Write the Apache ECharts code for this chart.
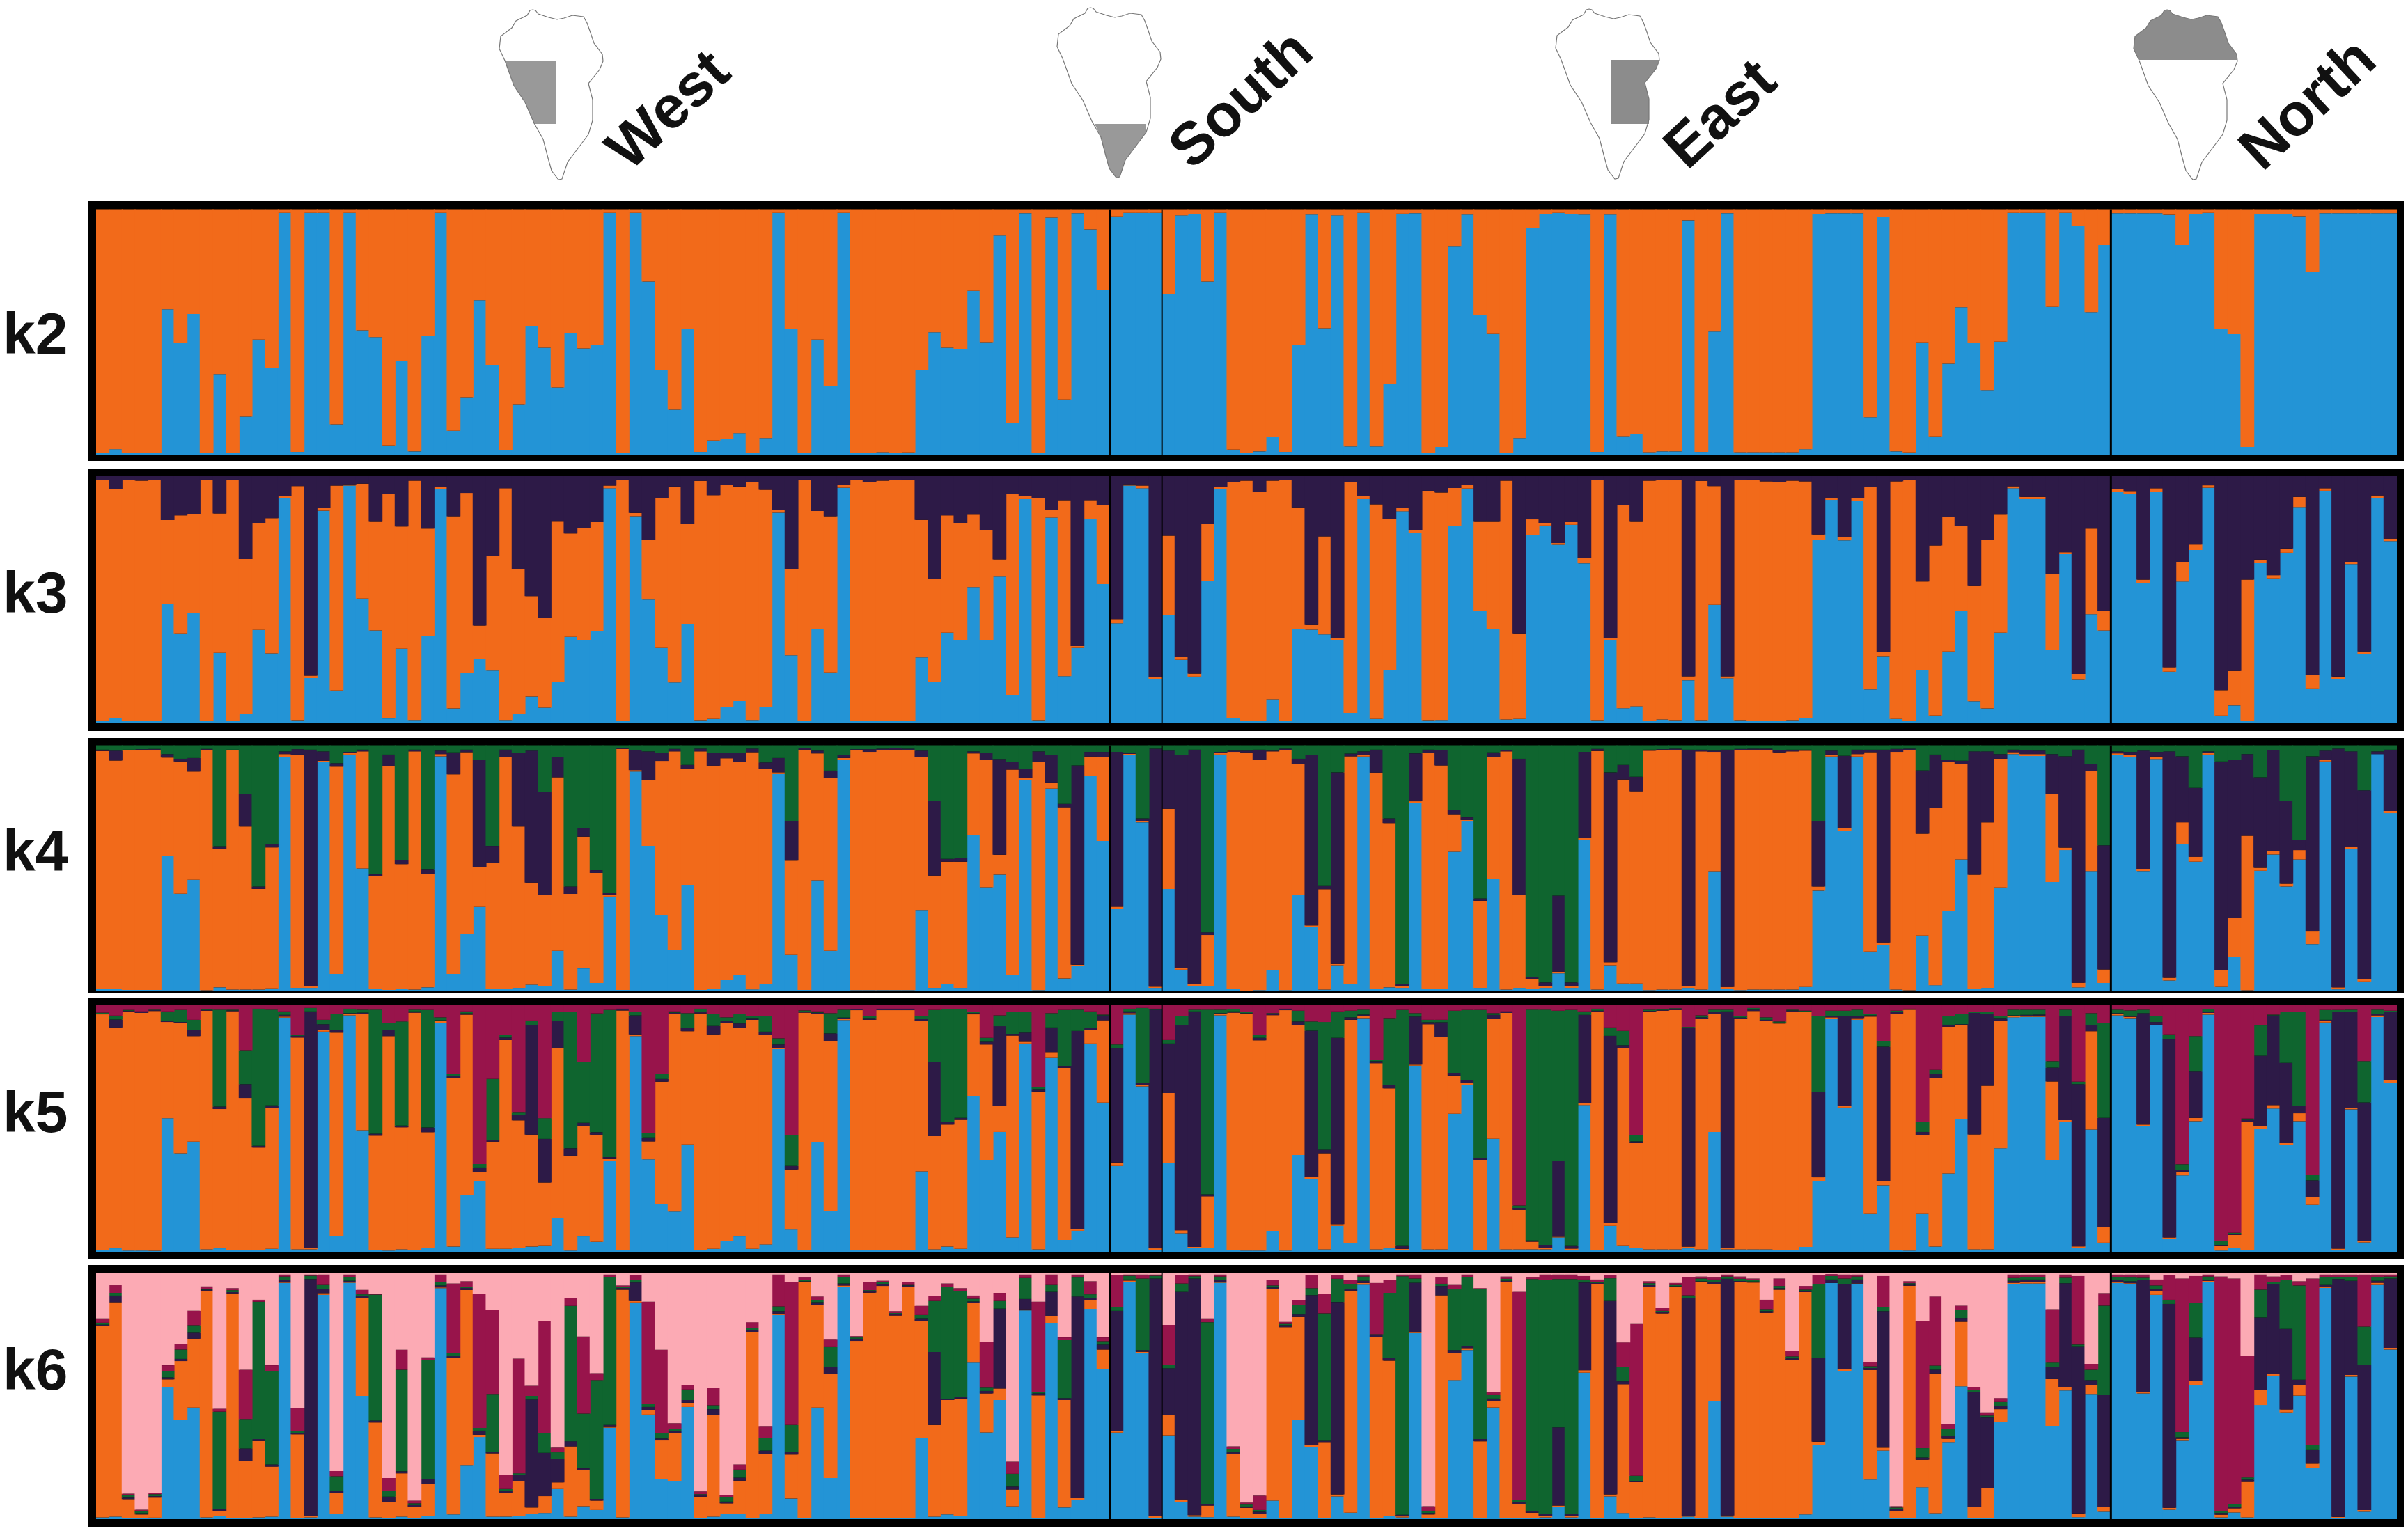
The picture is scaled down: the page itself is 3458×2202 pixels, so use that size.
<!DOCTYPE html>
<html><head><meta charset="utf-8">
<style>html,body{margin:0;padding:0;background:#fff}#c{width:3458px;height:2202px}</style>
<script src="https://cdn.jsdelivr.net/npm/echarts@6/dist/echarts.min.js"></script>
</head><body><div id="c"></div>
<script>
const regions = ['West','South','East','North'];
const regionSizes = [78,4,73,22];
const panelNames = ['k2','k3','k4','k5','k6'];

const k2Blue = [
1.1,2.5,1.1,1.1,1.1,59.3,45.6,57.4,1.1,33,
1.1,15.7,47,35.6,98.5,1.4,98.5,98.5,12.6,98.5,
50.8,48,4,38.5,1.6,48.4,98.5,10,23.6,63,
36.5,2.2,20.5,52.6,43.7,27.6,49.7,43.4,44.9,98.5,
1.1,98.5,70.6,34.8,18.5,51.4,1.4,6,6.5,9,
1.1,7,98.5,51.4,1.1,47,28.3,98.5,1.1,1.1,
1.3,1.1,1.2,34.8,50,43.7,43,66.8,46,89.3,
13.2,98.4,1.1,96.6,22.7,98.4,91.8,67.3,97.1,98.5,
98.5,98.5,65.5,97.5,98,70.6,98.5,2.3,1.1,1.6,
7.5,1.4,44.8,97.8,51.6,97.5,3.6,98.5,3.6,29.1,
98.2,98.4,1.1,3.4,84.8,97.8,57.1,49.3,1.1,7,
92.4,98,98.5,98,97.8,1.4,97.8,7.8,8.8,1.3,
1.6,1.6,95.5,1.4,50.3,98.4,1.3,1.3,1.3,1.3,
1.3,2.5,98,98.4,98.4,98.4,15.5,96.8,1.6,1.2,
45.9,7.7,37.2,60.2,45.6,26.5,46.2,98.5,98.5,98.5,
60.3,98.5,93.1,58.2,85.4,98.4,98.4,98.4,98.4,97.7,
85.4,98,98.5,51.2,49.2,3.4,98,98,98,97.2,
74.5,98.4,98.4,98.4,98.4,98.4,98.4];

const k3Dark = [
1.6,5.2,1.6,1.8,1.5,17.8,15.9,15.5,1.4,15.1,
1.4,33.6,18.9,17,7.9,4,80.8,12.9,3.8,3.3,
3,18.5,7.3,20.4,1.8,21.2,4.5,16.2,6.8,60.5,
32.3,4.9,37.5,48.6,57.3,18.4,23.2,21.1,18.6,3.8,
1.4,14.9,25.9,9,4.2,19.2,1.9,7.7,3.6,4.2,
2.3,5.5,13.8,37.5,1.4,14.1,16.2,3.6,1.4,2.5,
1.8,1.6,1.4,17.7,41.6,15.9,18.9,15.6,21.8,33.7,
7.3,7.9,8.8,13.8,9.7,68.8,9.7,11.6,57.9,3.3,
3.8,81.5,24.1,73.2,80,19.3,4.5,2.5,1.8,6.3,
1.8,1.5,12.6,60.3,24.4,65.5,2.5,7.9,11.4,17.3,
12.9,21.9,5.9,6.6,4.8,3.6,18.5,18.5,1.8,63.7,
17.5,18.9,27.1,18.6,33.2,1.6,65.5,11.6,18.5,1.8,
1.5,1.4,81.1,1.9,4,81.1,1.6,1.4,2.1,2.5,
1.8,2.1,23.6,8.8,24.7,9,4.5,71.1,2.1,1.4,
42.7,28.1,16.6,20.3,44.5,25.8,15.6,4.1,8.4,8.4,
39.7,30.8,80.1,21.2,54.5,5.2,6,41.9,4.9,77.4,
34.7,27.7,3.7,86.7,78.9,41.9,33.8,40.1,29.3,8.4,
80.5,4.9,81.2,34.7,71,7.8,25.3];
const k3Blue = [
.8,1.9,.8,.7,.7,48.2,36.3,44.7,.8,28.4,
.8,3.7,37.7,28.2,91,1.1,18.2,86,13.2,96.2,
50.4,37.5,1.8,30.1,1.2,35.1,94.7,5.9,20.3,25.9,
21.2,1.2,3.8,10.7,6.2,16.7,34.9,33.7,37.1,95.1,
.7,83.8,50,30.4,16.4,40,1.1,1.6,6.4,8.9,
1.2,6.4,85.2,27.4,.8,38.1,20.5,95.3,.7,.9,
.7,.7,.7,26.6,16.8,36.6,33.6,55.1,33.6,59.3,
11.4,90.7,1.1,83.2,19,30.4,82.5,56.3,40.4,96.2,
95.1,17.7,43.8,25.6,18.8,57.7,94.7,2.1,1,1,
9.6,1,38.1,37.8,35.9,33.6,4.1,90.7,1.6,21.6,
85.8,77,1.1,1.2,79.7,95,45.5,38.1,1.4,1.6,
76.3,80,72.2,80.3,64.7,1.1,33.7,6,6.8,1,
1.4,1.1,17.3,1.1,47.9,18.1,1.1,1,1,1,
1.1,2.1,74.2,90.4,74,90,13.6,27.1,1.6,1,
21.6,3,29,45.5,8.8,5.9,36.6,95.1,90.7,90.7,
29.7,68.4,17.5,44.1,37.5,93.7,92.9,56.8,93.8,20.8,
57.3,70.1,95.3,3,7.1,.8,64.9,58.6,69,87.5,
14,94.1,17.8,64.4,27.9,91.1,73.7];

const k4Green = [
1.8,2.2,1.8,1.6,1.5,3.6,5.5,5.2,1.5,41,
1.8,19.8,57.4,40,2.5,1.6,1.8,2.5,7.3,2.7,
1.8,52.5,3.8,46.7,1.8,50.3,2.2,2.9,1.8,5.9,
40.9,1.8,3.2,2.2,19,4.8,57.4,33.5,50.8,59.9,
1.1,2.1,2.5,3.2,1.5,8,1.4,3.2,3.2,3.2,
1.4,7,5.2,31,1.1,2.2,10.3,4.1,1.6,1.6,
1.4,1.1,1.4,2.2,22.8,46.2,45.9,2.5,3.2,5.6,
6.9,9.6,2.5,4.1,23.8,8.2,2.7,2.7,2.7,3,
29.7,1.4,2.2,4.1,1.8,76,2.7,2.2,2.2,1.8,
2.2,1.4,5.5,4.1,56.9,11,3.4,2.5,1.8,29.7,
97,3.3,1.8,1.9,26.2,29.3,62.2,2.9,2.1,5.5,
94.1,96.4,61.1,96.4,2.7,1.5,11,8,12.8,1.8,
1.6,1.4,1.8,1.8,2.2,1.8,1.5,1.4,1.4,1.9,
1.8,1.8,31,2.2,4.3,1.8,1.8,1.8,1.5,1.4,
10.2,3.8,5.9,6.3,2.5,2.5,3.6,1.8,2.1,2.2,
3.6,4.5,1.8,7.7,40.7,2.5,2.7,2.2,2.7,2.5,
4.5,17.3,2.5,6.6,6,3.6,13,2.1,22.8,38.5,
4.5,2.2,1.4,2.5,18.3,2.7,1.8];
const k4Dark = [
.5,4,.3,.3,.3,1.4,1.1,5.5,.3,1.1,
.3,13.2,1,1.5,1.1,2.2,96.2,3.8,1.4,.4,
.7,.8,4.7,1.6,.7,1.9,1.4,8.9,1,43.5,
6.9,2.9,29.8,53.6,41.8,8.2,3,3.6,1.1,1,
.4,8,11.7,3.2,1,1.6,1.1,5.1,2.1,3.7,
1.4,2.6,5.8,15.9,.7,1.1,2.9,1.1,.3,1.1,
.5,.7,.7,2.5,30.2,1.1,1.4,.8,2.7,38.9,
3,3.6,4.4,11,1.4,81,1.9,2.2,62.9,.5,
1.1,96.7,23.6,86.4,95.3,1.1,.5,.5,.7,4.1,
.3,.7,2.1,69.1,1.6,77.6,1.1,1.4,9.3,1.9,
1,19.5,1.4,6.3,1.8,1.1,1,1.8,.4,55.4,
.8,1.4,30.9,1.4,34.8,.8,77.2,5.9,5.9,.4,
.4,.5,96.1,.7,.5,96.4,.5,.4,.4,1,
.7,.4,26.4,1.6,29.5,1.8,1,78.3,1.2,.5,
25.7,21.6,1,1.4,50.1,28.8,1.9,1,1.5,1.4,
16.1,37.1,94.7,2.7,50.4,.8,1.1,48,1.9,92,
26.8,28,.5,84.6,64,33.2,36.8,40.9,33.5,4.1,
71.2,3.7,97,38.7,76.6,1.1,24.9];
const k4Blue = [
1,1.1,.6,.6,.6,55,39.7,45.3,.4,1.6,
.7,.7,.7,1.2,95.3,1.4,1.4,93.1,7.1,96.2,
49.9,1.1,.6,1.1,.7,1.6,95.5,7.1,23.4,34.3,
1,1.1,1.4,2.7,2.1,16.5,.7,9.3,3.4,38.5,
.6,89.3,59.1,30.9,16.8,43.3,.6,1.1,4.8,6.6,
.8,3,88.3,14.8,.6,45.1,16.5,94,.5,.5,
.5,.5,.5,33,1.4,3,1.4,63.6,42.3,47.4,
6.6,86,.5,82.4,5.2,10.2,87.5,61.1,33.4,95.9,
68.7,1.4,41.6,8.8,2.1,2.1,96.2,1.1,.3,.5,
8.5,.5,39.1,26.1,.7,10.6,3,95.4,1,1.6,
1.4,76.4,1,1,56.7,69,1.4,45.7,.7,1.4,
1,1.4,7.3,1.4,61.4,.7,10.6,3.2,3.2,.5,
.7,.7,1.4,.7,48.8,1.1,.5,.7,.7,.7,
.7,1.8,40.9,95.4,65.2,95.4,16.2,18.8,.7,.4,
22.7,2.5,32.6,53.6,1.1,1.4,42.2,96.4,95.6,95.6,
44.4,57.4,1.6,48.9,3.4,95.9,95.3,48.9,94.4,4.4,
59.8,52.7,96.2,1.8,14,.4,49,55.6,42.6,53.6,
19.2,93.4,.8,57.7,4,96.4,72.4];

const k5Crimson = [
3,4.2,1.9,2.5,1.8,2.5,1.9,5.9,1.6,1.8,
1.8,18.2,1.4,1.8,2.5,12.1,1.1,5.9,3.6,1.4,
1.8,1.8,7.3,6.6,1.8,1.9,4.9,27.7,2.5,64.4,
29.9,12.1,43.3,6.2,45.8,2.7,2.7,23,3.3,1.9,
1.4,2.7,51.8,27.8,2.5,3.2,1.4,3.6,4.9,3.6,
4.5,4.5,13.4,52.6,2.1,2.5,3.2,1.8,1.5,4.5,
1.4,1.4,1.4,4.5,1.9,1.6,1.6,2.7,13.2,4.1,
2.7,2.7,33.3,3.2,1.9,1.8,2.5,3.8,15.9,1.4,
1.1,1.4,14.1,4.5,1.8,1.8,1.8,1.5,2.7,12.1,
3.2,1.4,2.2,6.6,6.8,2.5,2.2,1.8,22.3,5.2,
1.9,3.2,5.9,5.9,2.2,1.9,1.9,3.2,2.5,81.2,
1.8,1.8,2.2,1.9,2.5,1.4,9,10.4,52.7,1.8,
1.5,1.2,8.8,4.1,1.8,1.8,4.5,1.1,4.9,6.6,
1.8,2.2,4.5,2.2,2.2,1.8,3.6,14.5,2.2,1.4,
47.2,26.2,4.5,3.6,2.7,2.7,4.5,1.8,1.8,1.8,
22.7,1.8,31,3.2,7.3,1.8,2.1,1.8,4.5,11.8,
64.5,12.5,1.6,95.6,92.3,46,8.2,3.8,2.7,2.7,
68.9,1.9,1.9,1.8,22.7,1.8,2.2];
const k5Green = [
.4,1.6,.3,.3,.2,3.8,4.9,4.1,.3,39.3,
.3,13.8,55.6,38.8,1.4,.3,1.4,1.8,6.4,1.8,
1.2,50.3,2.7,42.2,.7,47.7,1.2,1.1,.8,1.4,
24.7,1,1.1,1.8,8.4,3.6,55.3,24.7,48.2,59.7,
.3,1.4,1.8,2.1,.5,5.9,1.4,4.8,1.4,3.8,
.7,6.2,2.5,12.6,.5,.5,8.2,3.2,.2,.7,
.3,.3,.3,1,21.2,45.8,44.1,.5,1.6,4.4,
8.9,8.4,.7,5.8,22.7,8.6,6.6,.3,1.6,1.1,
30.4,.4,1.4,3.6,.7,74.9,1.4,1,.5,1.1,
.3,.3,4.4,3.7,51.8,10.7,2.7,2,.4,27.1,
95.8,1.4,1,1,25.2,28.6,60.1,.7,.3,1,
93.6,95.5,61,95.8,1.4,.8,3.4,5.8,2.5,.5,
.4,.4,.5,.8,1,.7,.5,.7,1,.4,
.3,.3,30.8,2.3,2.3,2.7,.5,2.3,.5,.2,
4.2,1.6,3.4,4.1,.4,.7,.7,2.3,2.1,2,
2.6,2.7,1,4.8,38.4,1.4,2.2,1.4,2.3,1.9,
2.3,14.4,1.1,1.6,.5,.5,12.3,.3,20.7,38.1,
2.1,4,.8,1,16.7,1.8,.5];
const k5Dark = [
.3,3.2,.3,.3,.3,.5,.5,2.5,.3,1,
.3,5.6,.7,1.1,.7,.7,95.9,2.3,1.1,.4,
.4,.8,2.5,.7,.5,1.9,.4,.8,.5,1.8,
.7,1,2.3,44.5,17.7,11,3,1.4,1,.8,
.4,7.7,1.6,1.1,.5,1.4,.5,3.4,.8,1.9,
.7,1.4,1.4,1.4,.4,.5,3,.5,.3,.7,
.3,.3,.3,.8,30,1,.8,.5,1.1,32.3,
.7,3.7,1,10,.8,80.4,.8,2,46.3,.7,
.8,96.8,20.1,83.2,95.5,.8,.4,.5,.4,1,
.5,.3,1.4,59.3,1.4,75.6,1,.7,.8,1.4,
1.1,19.5,.8,5.9,1.1,1.1,.7,1.5,.3,.8,
.5,1.1,30.7,1,35.9,.3,76,1.1,.7,.3,
.3,.3,88.6,.5,.8,95.9,.5,.5,.4,.4,
.4,.3,34.5,.4,36.3,.7,.5,54.5,.7,.2,
1.4,1.6,.8,.5,49.3,29.2,1,.4,.4,.4,
5.6,42.1,65.8,2.5,44.2,.4,.4,45.2,1.1,80.5,
.7,18.8,.4,.5,.4,.8,28.5,36.4,32.5,3,
6.8,.4,96,38.8,56.2,.5,27.8];
const k5Blue = [
.6,1.4,.5,.5,.4,54.2,40,44.7,1,1.4,
.8,.7,.7,1.2,95,1,1,89.3,6.4,95.9,
49.3,.7,.5,1,.7,1.6,92.9,2.1,23,28.8,
1.2,1.2,1.6,2.1,2.3,13.6,.5,6.2,4,37,
.7,87.5,37.5,19.2,16.3,43.6,.7,1.2,4.4,6.2,
1.2,3,82.2,9,.7,44.5,16.7,94,.7,.7,
.7,.7,.7,32.6,1,2.1,1.2,63.3,37.3,48.6,
5.8,84.5,1,78.9,4.8,8.5,84.5,60.5,34.8,96.2,
67.1,.7,35.9,7.5,1.6,1.6,95.9,.7,.5,.5,
8.5,.5,39.3,29.6,1,10.5,3.7,94.8,1,1.4,
.8,75.5,1,1,56,67.8,.7,45.8,1,1,
1,1,5.8,.8,59.5,.7,10.5,2.3,1.6,1,
1,1,1.4,1,48.6,1,1,1,1,.8,
.8,2,28.8,94.5,58.5,94.1,15.3,27,.7,.5,
15.3,2.1,31.8,53.7,1,1,42,95.1,95.3,95.3,
37.3,52.7,1.6,49.6,3.7,95.9,94.8,51,91.8,5.1,
31,53,96.2,.5,1.6,.8,49.9,58.1,43.3,53,
19,93,.8,57.8,3.8,95.2,68.5];

const k6Pink = [
18.6,5.1,89.7,96.2,89.3,37.6,29,15.5,5.6,55.2,
6.3,39.4,11,37.6,.8,54.9,.8,.8,80.5,.8,
7,8.7,83.3,31.3,92.5,34.4,.8,4.4,3.5,8.5,
15.2,82.2,34.9,45.9,19.8,71,10.3,25.9,40.8,.8,
5.2,1,11.8,31.3,61.1,45.5,88.8,46.9,90.1,77.8,
20.1,62.5,.8,3.9,2,9.7,27.2,.8,25.8,3.7,
3.3,15.6,3.9,13.5,9.4,4.4,6.3,9.3,28.2,8.2,
76.7,.8,11.8,.8,26.3,.8,3.5,26.3,.9,.8,
.8,.8,21.2,1,.8,18.6,.8,70.5,93.3,90.5,
3.1,20,11.3,1,8.6,1,3.1,.8,4.2,3.1,
.8,.8,94.8,2,5,.8,6.3,48.3,1.6,7.8,
2,.8,.8,.8,1.4,2.8,1,28.3,20.8,3.5,
14.4,4.2,1.8,1.6,2,.8,1.6,2.4,11,2.4,
31.8,5.4,1,.8,.8,.8,36.3,1.4,94.8,3.5,
19.6,9.7,61.5,13.4,46.4,56.7,50.9,.8,.8,.8,
14.8,.8,1.4,37,8.3,.8,.8,.8,2.8,1.1,
2.4,1.4,.8,1.6,2.4,33.9,.8,1.6,1,3.5,
2.4,.8,.8,.8,.8,.8,.8];
const k6Crimson = [
1.7,3.1,.4,.5,.6,2.5,2.2,5.8,1.1,1.2,
.8,20,.8,2.3,.8,9.4,.5,4.2,2.1,.9,
1.8,.2,5.2,8.1,1.1,1.2,3,28.3,2.2,54.5,
34.3,5.6,46.5,4.1,45.4,1.9,3.2,31.3,2.8,1.1,
.5,2.1,41.5,33.9,2.3,1.9,1.1,6.9,1.1,2.1,
2.5,4.7,12.9,57.9,.9,1.4,3,1.1,.5,3.4,
.5,.8,1.1,3.7,2.1,1.5,1.2,1.3,18.5,3.3,
4.9,1.4,36.8,4.2,1.1,1.2,5.3,1.5,13.2,.5,
1.6,.5,16.2,3.4,.7,1.5,.8,1.2,.8,5.8,
2.1,.8,1.9,5.3,7.9,1.5,1.6,.8,20.8,5.1,
.7,1.6,2.1,2.5,1.8,1.1,.4,1.4,.9,84.4,
.6,2.1,1.8,1.8,1.4,1,1.3,10.1,61.6,.8,
1.1,.8,7.4,.8,.8,.8,.9,.5,3.8,3,
2.2,1.5,3.7,.8,1.6,.8,1.7,12.5,.5,.8,
51.6,28,2,1.6,1.2,1.3,1.6,1.4,1.1,1.1,
21.7,1.3,27.8,2.4,5.1,1.1,1.2,1.3,2.4,9.9,
62.3,10.8,.8,95.3,91.5,49.2,6.1,2.2,2.1,1.7,
67.5,1.1,1.1,1.1,21.1,1.1,.8];
const k6Green = [
.8,1.1,1.2,.9,.8,2.4,3.8,3.1,.2,39.5,
.8,11.9,55.7,37.9,1.4,.7,1.3,1.7,5.9,1.6,
.7,51.1,2.4,41.2,.7,48.3,1.4,1.2,.5,1.1,
23.1,.9,.8,1.5,7.9,2.8,54.9,22.2,48.2,59.9,
.5,.9,1.2,2.1,.9,4.3,.5,1.6,1.7,3.3,
.8,5,1.9,11,.6,.9,8.2,2.5,.5,.3,
.9,.4,.2,1.3,20.7,45.2,42.9,1.1,1.3,3.1,
5.2,8.5,.4,2.8,23.5,7.7,1.6,1.4,1.4,1.5,
29,1.1,1.4,3.4,.9,73.8,1.5,1.2,.8,.7,
.8,.5,3.8,2.8,51.7,9.4,1.8,1.7,.2,26.4,
96.7,1.7,.6,.9,24.6,27.8,60.8,1.4,.8,1,
94.2,95,60.2,95.3,1.2,.4,9.2,5.7,2.1,.8,
.5,.5,1.2,1.1,1.1,.9,.9,.7,.8,.9,
.8,.4,29.9,1.4,2.4,1.2,.7,1.7,.7,.6,
3.8,1.7,2.8,3.4,.9,.8,1.5,1.1,.9,.9,
1.9,2.2,.9,4.2,36.3,1.2,1.5,1,1.6,1.7,
2.1,14.2,1.3,.6,1.1,.9,11.3,.9,19.7,38.2,
2.1,3.1,.7,1.4,15.7,1.4,.8];
const k6Dark = [
.6,2.7,.6,.5,.6,.8,.9,2.4,.4,.8,
.5,5,.8,.9,1,.6,96.2,1.6,.8,.5,
.7,.8,2.3,.8,.7,1.7,.8,.7,.8,1.7,
.7,.7,2.3,43.8,17.6,9.4,2.1,.8,.7,.8,
.7,7.5,1.4,.8,.7,1.1,.5,2.5,.7,1.2,
.8,1.3,1,1,.4,1,2.6,.8,.9,.7,
.7,.6,.5,1.2,29.6,.6,.7,.6,1,32.4,
1.2,4.2,.8,10,.8,81.8,.9,2,48.6,.4,
.7,96.4,18.8,84.2,96,.6,.6,.8,.5,.8,
.7,.8,1,60.8,.8,78.1,.8,.9,1,1.1,
.7,20,.6,3.8,1.3,.9,.9,.9,.4,.6,
.6,.8,31.7,.8,35.6,.5,78.5,1.2,.5,.6,
.5,.4,88.2,.4,.8,96,.4,.4,.7,.6,
.5,.6,34,1.4,34.4,1.6,.8,55.4,.8,.4,
.9,1.5,1.1,1.5,46.7,28.6,1.4,.8,.9,.9,
4.8,42,67.6,2.1,45.3,.6,.8,45.5,.8,82.7,
.6,17.6,.4,.7,.6,.9,29.4,36.3,32.7,2.2,
5.5,.7,96.5,38.2,58.7,.8,28.1];
const k6Blue = [
.7,1,.5,.3,.6,53.6,40.4,45.3,.7,1.2,
.5,.5,.7,1,95.8,.5,.7,91,2.2,95.9,
50,.7,.5,1,.5,1.2,93.7,1.9,21.7,33.3,
1,1,1.2,2,2.5,12.2,1,5.2,3.7,37.1,
.7,87.9,42.4,16.2,15.5,45.5,.5,1,2.2,2.2,
.5,2.1,82.8,8.3,.5,45.3,16.7,94.2,.5,.5,
.5,.5,.5,33,1,1.9,1.2,63.5,35.2,48.3,
5.2,84.7,.5,79.5,4.7,7.7,85.3,61,35.1,96.3,
67.3,.5,34,6.9,1,.8,95.9,1,.5,.5,
7.5,.5,40.1,29.2,.5,9.2,2.6,95.1,.5,1.4,
.7,75.5,.5,.5,56.4,68.6,.5,45.3,.5,.5,
.5,.7,5,.7,59.4,.5,9.2,2.5,.5,.7,
.5,.5,1,.5,47.9,1,.5,.5,.5,.5,
.5,1.9,30.2,95.8,59.9,95.2,16,27.8,.3,.5,
12.9,2.4,31,53.9,.5,.5,39.3,95.4,95.6,95.6,
37.7,52.2,.8,50.5,3,95.8,95.3,51,91,3.8,
31.8,54.5,96.2,.7,2.7,.7,46.3,58.2,43.3,50.1,
20.8,93.8,.3,57.8,3,95,68.8];

const COLORS = {blue:'#2394d6', orange:'#f26a1a', dark:'#2d1a47', green:'#0f652f', crimson:'#98144b', pink:'#fcaab4'};

// Each panel lists its clusters from the bottom of the stack up; orange is what remains of 100 %.
const panelData = [
  {blue:k2Blue},
  {blue:k3Blue, dark:k3Dark},
  {blue:k4Blue, dark:k4Dark, green:k4Green},
  {blue:k5Blue, dark:k5Dark, green:k5Green, crimson:k5Crimson},
  {blue:k6Blue, dark:k6Dark, green:k6Green, crimson:k6Crimson, pink:k6Pink}
];
const STACK_ORDER = ['blue','orange','dark','green','crimson','pink'];

// outerTop, innerTop, innerBottom, outerBottom
const panelBoxes = [[289,300.5,654,662],[673,684,1038.5,1050],[1060,1070.5,1424,1426],[1433,1444,1798,1809],[1817,1828,2182,2193]];
const labelY = [485,857,1228,1603,1973];
const LEFT=138, RIGHT=3442, OUTER_L=127, OUTER_R=3452;
const N = regionSizes.reduce((a,b)=>a+b,0);
const individuals = Array.from({length:N},(_,i)=>String(i+1));

const grids=[],xAxes=[],yAxes=[],series=[],graphics=[];
panelData.forEach((p,pi)=>{
  const box=panelBoxes[pi];
  Object.values(p).forEach(a=>{ if(a.length!==N) throw new Error('length '+a.length+' panel '+pi); });
  const orange=individuals.map((_,i)=>{
    let s=100; Object.values(p).forEach(a=>s-=a[i]); return Math.max(0,+s.toFixed(1));
  });
  const all=Object.assign({},p,{orange});
  grids.push({left:LEFT,width:RIGHT-LEFT,top:box[1],height:box[2]-box[1],show:false});
  xAxes.push({type:'category',gridIndex:pi,data:individuals,show:false,boundaryGap:true});
  yAxes.push({type:'value',gridIndex:pi,min:0,max:100,show:false});
  STACK_ORDER.forEach(name=>{
    if(!all[name]) return;
    series.push({name:panelNames[pi]+' '+name,type:'bar',xAxisIndex:pi,yAxisIndex:pi,stack:'q'+pi,
      data:all[name],barWidth:'106%',silent:true,animation:false,z:3,clip:true,
      itemStyle:{color:COLORS[name]}});
  });
  graphics.push({type:'rect',z:1,shape:{x:OUTER_L,y:box[0],width:OUTER_R-OUTER_L,height:box[3]-box[0]},style:{fill:'#000'}});
  graphics.push({type:'text',z:5,x:4,y:labelY[pi],style:{text:panelNames[pi],font:'bold 84px "Liberation Sans"',fill:'#111',textVerticalAlign:'middle'}});
  // boundaries between regions
  let acc=0;
  regionSizes.slice(0,3).forEach((s,ri)=>{
    acc+=s;
    const x=LEFT+(RIGHT-LEFT)*acc/N;
    const w=ri==2?3:2;
    graphics.push({type:'rect',z:6,shape:{x:x-w/2,y:box[1],width:w,height:box[2]-box[1]},style:{fill:'#000'}});
  });
});

// island outline as drawn for the West panel, offset for the others
const island=[[765,14],[769,15],[773,20],[788,25],[800,28],[810,26],[822,22],[838,24],[843,33],[848,47],[853,62],[865,78],[866,88],[861,100],[845,120],[851,143],[851,173],[845,193],[830,213],[815,233],[807,257],[802,258],[792,245],[787,227],[780,200],[767,177],[754,147],[738,123],[725,87],[717,70],[719,52],[735,40],[741,30],[757,22],[761,15]];
const shift=(pts,dx,dy)=>pts.map(p=>[p[0]+dx,p[1]+dy]);
const shades=[
 {dx:0,dy:0,fill:'#999999',pts:[[725,87],[798,87],[798,178],[767,178],[754,147],[738,123]]},
 {dx:801,dy:-3,fill:'#999999',pts:[[771,181],[845,181],[845,193],[830,213],[815,233],[807,257],[802,258],[792,245],[787,227],[780,200]]},
 {dx:1517,dy:-1,fill:'#8c8c8c',pts:[[797,87],[866,87],[861,100],[845,120],[851,143],[851,173],[851,179],[797,179]]},
 {dx:2347,dy:0,fill:'#8c8c8c',pts:[[765,14],[769,15],[773,20],[788,25],[800,28],[810,26],[822,22],[838,24],[843,33],[848,47],[853,62],[865,78],[866,86],[725,86],[717,70],[719,52],[735,40],[741,30],[757,22],[761,15]]}
];
shades.forEach(s=>{
  graphics.push({type:'polygon',z:2,shape:{points:shift(s.pts,s.dx,s.dy)},style:{fill:s.fill}});
  graphics.push({type:'polygon',z:2,shape:{points:shift(island,s.dx,s.dy)},style:{fill:'none',stroke:'#777',lineWidth:1.2}});
});
const regionLabelPos=[[917,262],[1725,260],[2436,260],[3262,262]];
regions.forEach((r,i)=>{
  graphics.push({type:'text',z:5,x:regionLabelPos[i][0],y:regionLabelPos[i][1],rotation:Math.PI*43/180,originX:0,originY:0,
    style:{text:r,font:'bold 86px "Liberation Sans"',fill:'#111',textVerticalAlign:'bottom'}});
});

const chart=echarts.init(document.getElementById('c'),null,{renderer:'canvas',width:3458,height:2202});
chart.setOption({animation:false,grid:grids,xAxis:xAxes,yAxis:yAxes,series,graphic:{elements:graphics}});
</script></body></html>
